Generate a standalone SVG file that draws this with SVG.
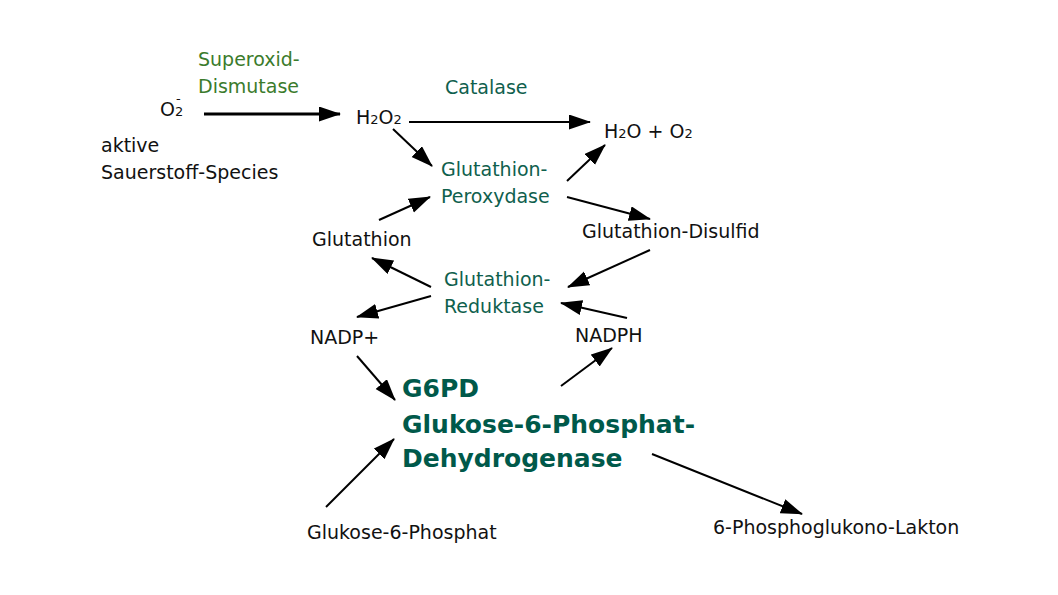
<svg xmlns="http://www.w3.org/2000/svg" width="1058" height="595" viewBox="0 0 1058 595">
<style>
text{font-family:"DejaVu Sans","Liberation Sans",sans-serif;font-size:19px;fill:#111}
.enz{fill:#0f604d}
.sod{fill:#3b7b2c}
.big{font-size:25px;font-weight:bold;fill:#00594a}
.sub{font-size:13px}
.c line{stroke:#000;stroke-width:2;marker-end:url(#ah)}
.c line.thick{stroke-width:3}
</style>
<defs>
<marker id="ah" markerUnits="userSpaceOnUse" markerWidth="22" markerHeight="16" refX="21" refY="7.5" orient="auto" viewBox="0 0 22 16">
<path d="M0,0 L22,7.5 L0,15 z" fill="#000"/>
</marker>
</defs>
<rect width="1058" height="595" fill="#fff"/>
<g class="c" id="connectors">
<line class="thick" x1="204" y1="114" x2="340" y2="114"/>
<line x1="409" y1="122" x2="590" y2="122"/>
<line x1="393" y1="129" x2="432" y2="166"/>
<line x1="567" y1="181" x2="605" y2="145"/>
<line x1="567" y1="197" x2="650" y2="219"/>
<line x1="379" y1="220" x2="430" y2="197"/>
<line x1="650" y1="250" x2="568" y2="287"/>
<line x1="431" y1="287" x2="372" y2="258"/>
<line x1="431" y1="296" x2="357" y2="317"/>
<line x1="627" y1="318" x2="561" y2="303"/>
<line x1="357" y1="356" x2="395" y2="400"/>
<line x1="561" y1="386" x2="612" y2="348"/>
<line x1="326" y1="507" x2="394" y2="439"/>
<line x1="652" y1="454" x2="802" y2="514"/>
</g>
<g id="sod"><text class="sod" x="198" y="66">Superoxid-</text><text class="sod" x="198" y="93">Dismutase</text></g>
<g id="o2"><text x="160" y="116">O<tspan class="sub">2</tspan></text><text class="sub" x="176" y="103">-</text></g>
<g id="ros"><text x="101" y="152">aktive</text><text x="101" y="179">Sauerstoff-Species</text></g>
<g id="h2o2"><text x="356" y="124">H<tspan class="sub">2</tspan>O<tspan class="sub">2</tspan></text></g>
<g id="catalase"><text class="enz" x="445" y="94">Catalase</text></g>
<g id="h2o"><text x="604" y="138">H<tspan class="sub">2</tspan>O + O<tspan class="sub">2</tspan></text></g>
<g id="gpx"><text class="enz" x="441" y="176">Glutathion-</text><text class="enz" x="441" y="203">Peroxydase</text></g>
<g id="gssg"><text x="582" y="238">Glutathion-Disulfid</text></g>
<g id="gsh"><text x="312" y="246">Glutathion</text></g>
<g id="gr"><text class="enz" x="444" y="286">Glutathion-</text><text class="enz" x="444" y="313">Reduktase</text></g>
<g id="nadp"><text x="310" y="344">NADP+</text></g>
<g id="nadph"><text x="575" y="342">NADPH</text></g>
<g id="g6pd"><text class="big" x="402" y="397">G6PD</text><text class="big" x="402" y="433">Glukose-6-Phosphat-</text><text class="big" x="402" y="467">Dehydrogenase</text></g>
<g id="g6p"><text x="307" y="539">Glukose-6-Phosphat</text></g>
<g id="lakton"><text x="713" y="534">6-Phosphoglukono-Lakton</text></g>
</svg>
